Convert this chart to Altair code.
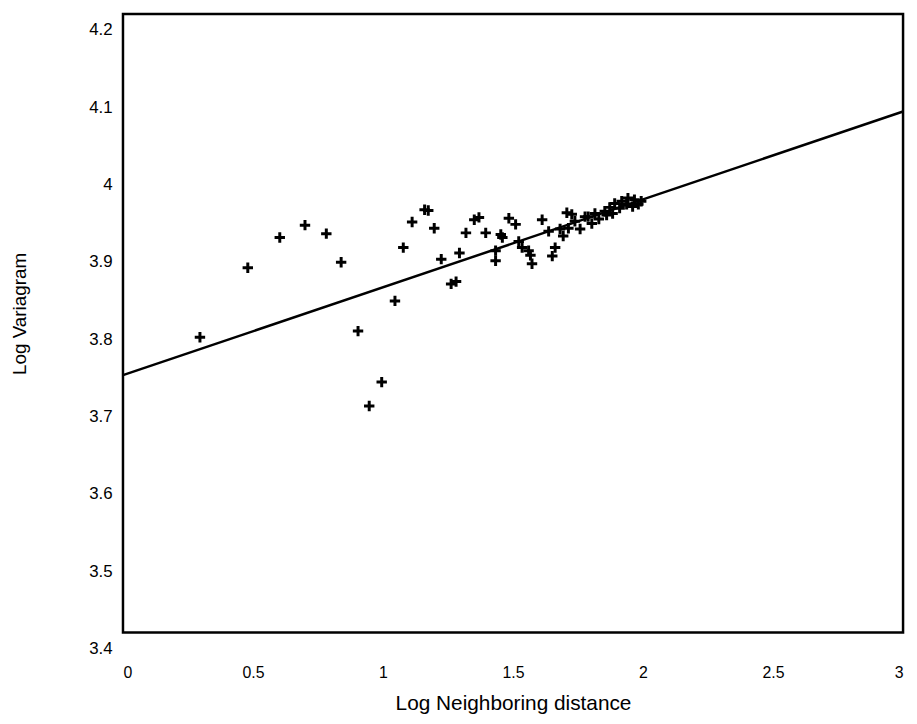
import altair as alt
import pandas as pd

# Scatter points (Log Neighboring distance, Log Variagram)
pt_x = [0.296, 0.480, 0.603, 0.700, 0.782, 0.839, 0.904, 0.947, 0.995, 1.046,
        1.078, 1.112, 1.160, 1.174, 1.197, 1.224, 1.262, 1.281, 1.294, 1.319,
        1.351, 1.369, 1.395, 1.433, 1.433, 1.453, 1.459, 1.484, 1.510, 1.522,
        1.535, 1.560, 1.573, 1.567, 1.612, 1.637, 1.662, 1.651, 1.707, 1.726,
        1.713, 1.738, 1.789, 1.815, 1.853, 1.872, 1.891, 1.918, 1.942, 1.967,
        1.993, 1.758, 1.777, 1.803, 1.830, 1.860, 1.883, 1.910, 1.937, 1.960,
        1.982, 1.681, 1.693]
pt_y = [3.782, 3.872, 3.911, 3.927, 3.916, 3.879, 3.790, 3.693, 3.724, 3.829,
        3.898, 3.931, 3.947, 3.946, 3.923, 3.883, 3.851, 3.854, 3.891, 3.917,
        3.934, 3.937, 3.917, 3.894, 3.881, 3.915, 3.911, 3.936, 3.928, 3.906,
        3.898, 3.894, 3.877, 3.888, 3.934, 3.919, 3.898, 3.887, 3.943, 3.941,
        3.923, 3.932, 3.938, 3.942, 3.945, 3.950, 3.955, 3.958, 3.962, 3.960,
        3.958, 3.922, 3.938, 3.929, 3.935, 3.940, 3.942, 3.949, 3.954, 3.951,
        3.954, 3.922, 3.913]

# Fitted line
line_x = [0.0, 3.0]
line_y = [3.733, 4.074]

x_ticks = [0, 0.5, 1, 1.5, 2, 2.5, 3]
y_ticks = [3.4, 3.5, 3.6, 3.7, 3.8, 3.9, 4.0, 4.1, 4.2]

pts = pd.DataFrame({"x": pt_x, "y": pt_y})
ln = pd.DataFrame({"x": line_x, "y": line_y})

FONT = "Liberation Sans"

xscale = alt.Scale(domain=[0, 3], nice=False, zero=False)
yscale = alt.Scale(domain=[3.4, 4.2], nice=False, zero=False)

xaxis = alt.Axis(
    title="Log Neighboring distance", values=x_ticks,
    labelExpr="'' + datum.value", grid=False, domain=False, ticks=False,
    labelPadding=32, labelFontSize=16, labelFont=FONT, labelColor="black",
    titleFont=FONT, titleFontSize=21, titleFontWeight="normal", titleColor="black",
    titleY=72, titleBaseline="middle",
)
yaxis = alt.Axis(
    title="Log Variagram", values=y_ticks,
    labelExpr="'' + datum.value", grid=False, domain=False, ticks=False,
    labelPadding=11, labelOffset=16, labelFontSize=17, labelFont=FONT, labelColor="black",
    titleFont=FONT, titleFontSize=19, titleFontWeight="normal", titleColor="black",
    titleX=-104, titleY=302, titleAngle=-90, titleBaseline="middle", titleAlign="center",
)

line = alt.Chart(ln).mark_line(color="black", strokeWidth=2.5).encode(
    x=alt.X("x:Q", scale=xscale, axis=xaxis),
    y=alt.Y("y:Q", scale=yscale, axis=yaxis),
)

points = alt.Chart(pts).mark_point(
    shape="M-1,0L1,0M0,-1L0,1", filled=False, color="black",
    strokeWidth=3, size=110, opacity=1,
).encode(
    x=alt.X("x:Q", scale=xscale),
    y=alt.Y("y:Q", scale=yscale),
)

chart = alt.layer(line, points).properties(
    width=787, height=624,
    autosize=alt.AutoSizeParams(type="none"),
    padding={"left": 116, "top": 3, "right": 6, "bottom": 81},
    background="white",
).configure_view(
    stroke="black", strokeWidth=2.5,
)

chart.save("out.html", embed_options={"renderer": "svg", "actions": False})
